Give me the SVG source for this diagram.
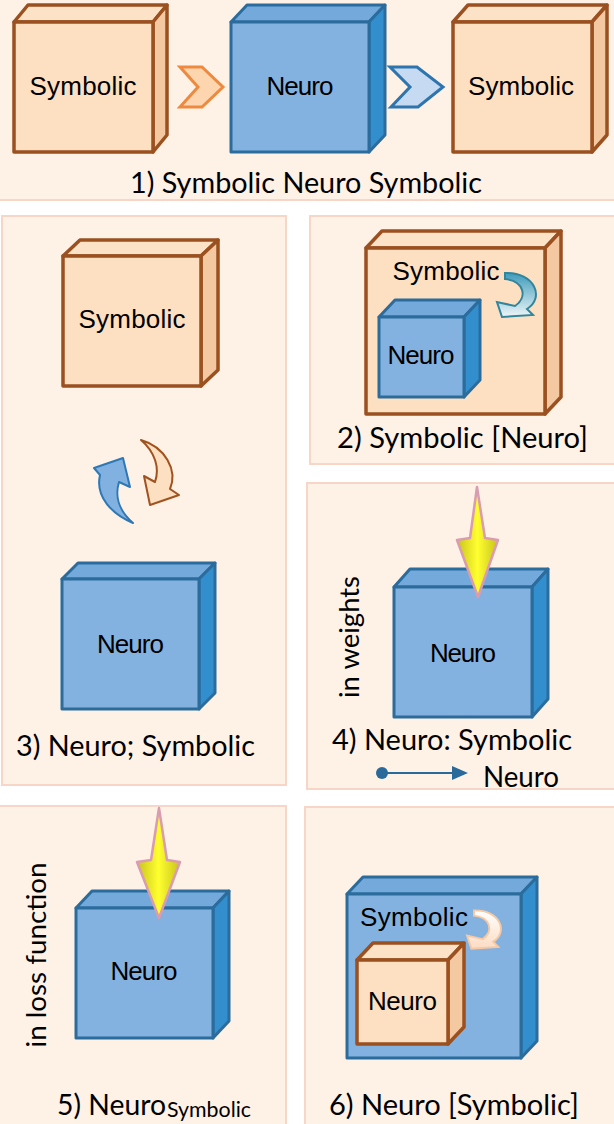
<svg xmlns="http://www.w3.org/2000/svg" width="614" height="1124" viewBox="0 0 614 1124">
<defs>
<style>
.panel{fill:#FEF2E7;stroke:#F7D6C8;stroke-width:2}
.s{stroke:#9B5020;stroke-width:3.5;stroke-linejoin:round}
.sf{fill:#FDDFC1}
.stp{fill:#FCE2C7}
.ssd{fill:#F4C9A2}
.n{stroke:#2B6C9C;stroke-width:3;stroke-linejoin:round}
.nf{fill:#83B2E0}
.ntp{fill:#74A9DC}
.nsd{fill:#338ECD}
.lbl{font-family:"Liberation Sans",Arial,sans-serif;font-size:26px;fill:#000;text-anchor:middle}
.cap{font-family:Lato,"Open Sans",sans-serif;font-size:28px;fill:#000}
.yel{fill:url(#yg);stroke:#DA9CB0;stroke-width:2.5;stroke-linejoin:round}
</style>
<linearGradient id="yg" x1="0" y1="0" x2="1" y2="0">
<stop offset="0" stop-color="#C8C31C"/>
<stop offset="0.5" stop-color="#FFFF30"/>
<stop offset="1" stop-color="#C8C31C"/>
</linearGradient>
<linearGradient id="tg" x1="0" y1="0" x2="0" y2="1">
<stop offset="0" stop-color="#3E9BBB"/>
<stop offset="1" stop-color="#EEF6F8"/>
</linearGradient>
<linearGradient id="og" x1="0" y1="0" x2="0" y2="1">
<stop offset="0" stop-color="#FFFFFF"/>
<stop offset="1" stop-color="#FBDCC2"/>
</linearGradient>
<path id="carrow" d="M0,-3 C30,-4 40,22 22,33 L28,39 L-3,41 L-8,26 L10,30 C23,21 19,5 0,3 Z"/>
</defs>
<rect width="614" height="1124" fill="#FFFFFF"/>

<g id="panels">
<rect class="panel" x="-2" y="-4" width="618" height="204"/>
<rect class="panel" x="310" y="216" width="310" height="248"/>
<rect class="panel" x="2" y="216" width="284" height="569"/>
<rect class="panel" x="307" y="483" width="313" height="306"/>
<rect class="panel" x="-2" y="806" width="288" height="330"/>
<rect class="panel" x="305" y="807" width="315" height="330"/>
</g>

<g id="p1-symbolic-left">
<polygon class="s stp" points="14,22 28,5 167,5 153,22"/>
<polygon class="s ssd" points="153,22 167,5 167,135 153,152"/>
<rect class="s sf" x="14" y="22" width="139" height="130"/>
<text class="lbl" x="83" y="95" textLength="107">Symbolic</text>
</g>
<g id="p1-neuro">
<polygon class="n ntp" points="231,22 247,5 385,5 369,22"/>
<polygon class="n nsd" points="369,22 385,5 385,135 369,152"/>
<rect class="n nf" x="231" y="22" width="138" height="130"/>
<text class="lbl" x="300" y="95" textLength="67">Neuro</text>
</g>
<g id="p1-symbolic-right">
<polygon class="s stp" points="453,22 468,5 607,5 592,22"/>
<polygon class="s ssd" points="592,22 607,5 607,135 592,152"/>
<rect class="s sf" x="453" y="22" width="139" height="130"/>
<text class="lbl" x="521" y="95" textLength="106">Symbolic</text>
</g>
<text class="cap" x="130" y="193" textLength="352" lengthAdjust="spacingAndGlyphs">1) Symbolic Neuro Symbolic</text>

<g id="p2-symbolic-outer">
<polygon class="s stp" points="366,248 382,231 561,231 545,248"/>
<polygon class="s ssd" points="545,248 561,231 561,397 545,414"/>
<rect class="s sf" x="366" y="248" width="179" height="166"/>
<text class="lbl" x="446" y="280" textLength="107">Symbolic</text>
</g>
<g id="p2-neuro-inner">
<polygon class="n ntp" points="379,317 395,300 480,300 464,317"/>
<polygon class="n nsd" points="464,317 480,300 480,380 464,397"/>
<rect class="n nf" x="379" y="317" width="85" height="80"/>
<text class="lbl" x="421" y="364" textLength="67">Neuro</text>
</g>
<text class="cap" x="337" y="448" textLength="251" lengthAdjust="spacingAndGlyphs">2) Symbolic [Neuro]</text>

<g id="p3-symbolic">
<polygon class="s stp" points="63,256 80,240 218,240 201,256"/>
<polygon class="s ssd" points="201,256 218,240 218,370 201,386"/>
<rect class="s sf" x="63" y="256" width="138" height="130"/>
<text class="lbl" x="132" y="328" textLength="107">Symbolic</text>
</g>
<g id="p3-neuro">
<polygon class="n ntp" points="62,579 78,563 215,563 199,579"/>
<polygon class="n nsd" points="199,579 215,563 215,693 199,709"/>
<rect class="n nf" x="62" y="579" width="137" height="130"/>
<text class="lbl" x="130.5" y="653" textLength="67">Neuro</text>
</g>
<text class="cap" x="16" y="756" textLength="239" lengthAdjust="spacingAndGlyphs">3) Neuro; Symbolic</text>

<g id="p4-neuro">
<polygon class="n ntp" points="394,587 410,569 548,569 532,587"/>
<polygon class="n nsd" points="532,587 548,569 548,699 532,717"/>
<rect class="n nf" x="394" y="587" width="138" height="130"/>
<text class="lbl" x="463" y="662" textLength="66">Neuro</text>
</g>
<text class="cap" transform="translate(359,637) rotate(-90)" text-anchor="middle" style="font-size:27px" textLength="122" lengthAdjust="spacingAndGlyphs">in weights</text>
<text class="cap" x="332" y="750" textLength="240" lengthAdjust="spacingAndGlyphs">4) Neuro: Symbolic</text>
<text class="cap" x="483" y="787" textLength="76" lengthAdjust="spacingAndGlyphs">Neuro</text>

<g id="p5-neuro">
<polygon class="n ntp" points="76,908 92,891 229,891 213,908"/>
<polygon class="n nsd" points="213,908 229,891 229,1021 213,1038"/>
<rect class="n nf" x="76" y="908" width="137" height="130"/>
<text class="lbl" x="144" y="980" textLength="67">Neuro</text>
</g>
<text class="cap" transform="translate(46,955) rotate(-90)" text-anchor="middle" style="font-size:27px" textLength="185" lengthAdjust="spacingAndGlyphs">in loss function</text>
<text class="cap" x="57" y="1115" textLength="109" lengthAdjust="spacingAndGlyphs">5) Neuro</text>
<text class="cap" x="167" y="1117" style="font-size:21px" textLength="84" lengthAdjust="spacingAndGlyphs">Symbolic</text>

<g id="p6-neuro-outer">
<polygon class="n ntp" points="347,894 363,877 537,877 521,894"/>
<polygon class="n nsd" points="521,894 537,877 537,1041 521,1058"/>
<rect class="n nf" x="347" y="894" width="174" height="164"/>
<text class="lbl" x="414" y="926" textLength="108">Symbolic</text>
</g>
<g id="p6-symbolic-inner">
<polygon class="s stp" points="357,960 373,943 464,943 448,960"/>
<polygon class="s ssd" points="448,960 464,943 464,1027 448,1044"/>
<rect class="s sf" x="357" y="960" width="91" height="84"/>
<text class="lbl" x="402.5" y="1010" textLength="69">Neuro</text>
</g>
<text class="cap" x="329" y="1115" textLength="250" lengthAdjust="spacingAndGlyphs">6) Neuro [Symbolic]</text>

<g id="connectors">
<polygon points="180,67 202,67 223,87 202,107 180,107 198,87" fill="#FDD5AF" stroke="#EE8A40" stroke-width="3" stroke-linejoin="miter"/>
<polygon points="390,67 417,67 443,87 418,107 391,107 410,87" fill="#C6DBF1" stroke="#2E75B0" stroke-width="3" stroke-linejoin="miter"/>
<use href="#carrow" transform="translate(505,276)" fill="url(#tg)" stroke="#31859C" stroke-width="2"/>
<path d="M133,523 C112,514 95,497 100,475 L94,468 L123,458 L130,487 L119,482 C115,495 118,510 133,523 Z" fill="#80B1E1" stroke="#2E78B5" stroke-width="2" stroke-linejoin="round"/>
<path d="M141,440 C165,447 178,470 170,489 L179,495 L150,505 L144,476 L155,482 C160,468 155,452 141,440 Z" fill="#FDDFC1" stroke="#A0521F" stroke-width="2" stroke-linejoin="round"/>
<path class="yel" d="M477,487 L485,538 L498,540 L478,597 L457,540 L470,538 Z"/>
<circle cx="382" cy="773" r="6" fill="#2A6A9A"/>
<line x1="382" y1="773" x2="455" y2="773" stroke="#2A6A9A" stroke-width="2"/>
<polygon points="452,766 468,773 452,780" fill="#2A6A9A"/>
<path class="yel" d="M159,808 L167,860 L180,862 L159,918 L137,862 L151,860 Z"/>
<use href="#carrow" transform="translate(474,913) scale(0.87)" fill="url(#og)" stroke="#F6C8A4" stroke-width="2.2"/>
</g>
</svg>
